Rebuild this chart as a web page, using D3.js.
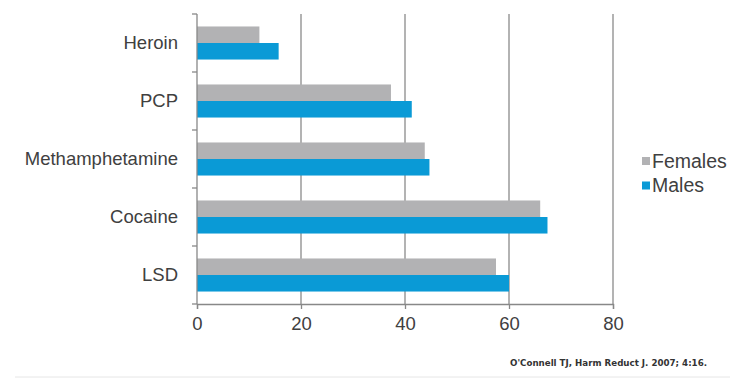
<!DOCTYPE html>
<html>
<head>
<meta charset="utf-8">
<script src="https://cdn.jsdelivr.net/npm/d3@7"></script>
<style>
  body { margin: 0; background: #fff; }
  svg { display: block; }
</style>
</head>
<body>
<script>
// values
const drugs = ["Heroin", "PCP", "Methamphetamine", "Cocaine", "LSD"];
const females = [12, 37.3, 43.8, 66, 57.5];
const males = [15.7, 41.3, 44.7, 67.4, 60];
const seriesNames = ["Females", "Males"];
const seriesColors = ["#b2b2b4", "#0a9ad6"];
const xTicks = [0, 20, 40, 60, 80];
const citation = "O'Connell TJ, Harm Reduct J. 2007; 4:16.";

const width = 746, height = 379;
const margin = {top: 14, left: 197, right: 133, bottom: 75};

const svg = d3.select("body").append("svg")
    .attr("width", width)
    .attr("height", height)
    .style("font-family", "'Liberation Sans', Arial, sans-serif");

const x = d3.scaleLinear()
    .domain([0, 80])
    .range([margin.left, width - margin.right]);

const y = d3.scaleBand()
    .domain(drugs)
    .range([margin.top, height - margin.bottom])
    .paddingInner(0.43)
    .paddingOuter(0.215);

// step of the band, used for the category tick marks
const step = y.step();
const y0 = margin.top, y1 = height - margin.bottom;

// vertical gridlines
svg.append("g")
  .selectAll("line")
  .data(xTicks.filter(d => d > 0))
  .join("line")
    .attr("x1", d => x(d)).attr("x2", d => x(d))
    .attr("y1", y0).attr("y2", y1)
    .attr("stroke", "#8a8a8a")
    .attr("stroke-width", 1.3);

// bars: females on top, males below
const rows = drugs.map((d, i) => ({drug: d, values: [females[i], males[i]]}));
const inner = d3.scaleBand()
    .domain(seriesNames)
    .range([0, y.bandwidth()]);

const grp = svg.append("g")
  .selectAll("g")
  .data(rows)
  .join("g")
    .attr("transform", d => `translate(0,${y(d.drug)})`);

grp.selectAll("rect")
  .data(d => d.values.map((v, k) => ({name: seriesNames[k], v, k})))
  .join("rect")
    .attr("x", x(0))
    .attr("y", d => inner(d.name))
    .attr("height", inner.bandwidth())
    .attr("width", d => x(d.v) - x(0))
    .attr("fill", d => seriesColors[d.k]);

// x axis
const xAxis = svg.append("g")
    .attr("transform", `translate(0,${y1})`)
    .call(d3.axisBottom(x).tickValues(xTicks).tickSize(5).tickPadding(8));
xAxis.select(".domain").attr("stroke", "#888").attr("stroke-width", 1.3);
xAxis.selectAll(".tick line").attr("stroke", "#888").attr("stroke-width", 1.3);
xAxis.selectAll("text")
    .attr("fill", "#404040")
    .style("font-size", "18.5px")
    .style("font-family", "'Liberation Sans', Arial, sans-serif");

// y axis line with tick marks at the band edges
svg.append("line")
    .attr("x1", x(0)).attr("x2", x(0))
    .attr("y1", y0).attr("y2", y1)
    .attr("stroke", "#888").attr("stroke-width", 1.3);
svg.append("g")
  .selectAll("line")
  .data(d3.range(drugs.length + 1))
  .join("line")
    .attr("x1", x(0) - 5).attr("x2", x(0))
    .attr("y1", i => y0 + i * step).attr("y2", i => y0 + i * step)
    .attr("stroke", "#888").attr("stroke-width", 1.3);

// category labels
svg.append("g")
  .selectAll("text")
  .data(drugs)
  .join("text")
    .attr("x", 178)
    .attr("y", d => y(d) + y.bandwidth() / 2)
    .attr("dy", "0.35em")
    .attr("text-anchor", "end")
    .attr("fill", "#404040")
    .style("font-size", "18.5px")
    .text(d => d);

// legend
const legend = svg.append("g")
  .selectAll("g")
  .data(seriesNames)
  .join("g")
    .attr("transform", (d, i) => `translate(642,${161 + i * 24.5})`);
legend.append("rect")
    .attr("x", 0).attr("y", -4)
    .attr("width", 8).attr("height", 8)
    .attr("fill", (d, i) => seriesColors[i]);
legend.append("text")
    .attr("x", 10)
    .attr("dy", "0.35em")
    .attr("fill", "#404040")
    .style("font-size", "19.5px")
    .text(d => d);

// source note and faint baseline at the bottom
svg.append("text")
    .attr("x", 510)
    .attr("y", 366)
    .attr("fill", "#333")
    .attr("textLength", 197)
    .attr("lengthAdjust", "spacingAndGlyphs")
    .style("font-family", "'DejaVu Sans', Verdana, sans-serif")
    .style("font-size", "8.2px")
    .style("font-weight", "bold")
    .text(citation);

svg.append("line")
    .attr("x1", 15).attr("x2", 730)
    .attr("y1", 377).attr("y2", 377)
    .attr("stroke", "#e6e6e6")
    .attr("stroke-width", 1);
</script>
</body>
</html>
